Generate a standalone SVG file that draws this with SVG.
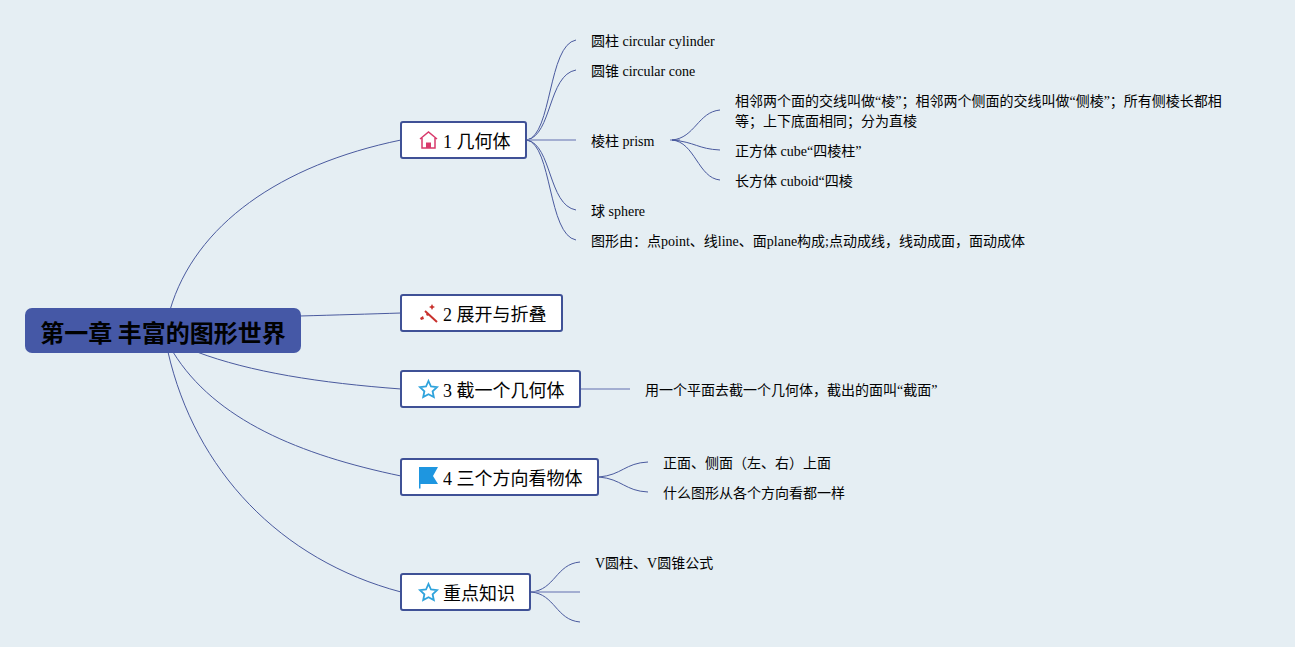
<svg xmlns="http://www.w3.org/2000/svg" width="1295" height="647" viewBox="0 0 1295 647">
<style>
text{font-family:"Liberation Serif","Noto Sans CJK SC",serif;fill:#000;opacity:.99}
.leaf{font-size:14px}
.top{font-size:18px}
.root{font-size:24px;font-weight:700;fill:#000;font-family:"Noto Sans CJK SC","Liberation Sans",sans-serif}
.box{fill:#fff;stroke:#3f5196;stroke-width:2}
.c{fill:none;stroke:#4a5a9e;stroke-width:1}
.s{fill:none;stroke:#8c99c6;stroke-width:1.5}
</style>
<rect width="1295" height="647" fill="#e5eef3"/>
<g id="connectors">
<path class="c" d="M170 310C195 225 280 165 401 140"/>
<path class="c" d="M300 316C335 315 370 314 401 313"/>
<path class="c" d="M197 352C250 372 320 383 401 389"/>
<path class="c" d="M173 352C215 420 300 455 401 476"/>
<path class="c" d="M168 352C195 470 280 560 401 592"/>
<path class="c" d="M527 140C552 135 548 45 576 40"/>
<path class="c" d="M527 140C552 135 548 75 576 70"/>
<path class="s" d="M527 140H576"/>
<path class="c" d="M527 140C552 145 548 205 576 210"/>
<path class="c" d="M527 140C552 145 548 235 576 240"/>
<path class="s" d="M670 140H680"/>
<path class="c" d="M672 140C695 138 698 112 720 110"/>
<path class="c" d="M672 140C695 142 698 149 720 150"/>
<path class="c" d="M672 140C695 142 698 178 720 180"/>
<path class="s" d="M581 389H630"/>
<path class="c" d="M599 477C622 475 625 463 648 462"/>
<path class="c" d="M599 477C622 479 625 491 648 492"/>
<path class="c" d="M531 592C555 590 556 564 580 562"/>
<path class="s" d="M531 592H580"/>
<path class="c" d="M531 592C555 594 556 620 580 622"/>
</g>
<g id="root"><rect x="25" y="308" width="276" height="45" rx="7" fill="#4558a6"/><text class="root" x="163" y="342" text-anchor="middle">第一章 丰富的图形世界</text></g>
<g id="n1"><rect class="box" x="401" y="122" width="125" height="36" rx="2"/>
<path d="M420 139L428.500 132L437 139M422 138V148H435V138" fill="none" stroke="#d83a6c" stroke-width="1.500"/><path d="M426 148V142.500H431V148Z" fill="#d83a6c"/>
<text class="top" x="443" y="148">1 几何体</text></g>
<g id="n2"><rect class="box" x="401" y="295" width="161" height="36" rx="2"/>
<path d="M425 311L437 322" stroke="#c8302c" stroke-width="2" fill="none"/><path d="M420 318l3-2 1 3-3 1zM426 314l2-1 1 2-2 1zM432 304l1 2 2 1-2 1-1 2-1-2-2-1 2-1z" fill="#c8302c"/>
<text class="top" x="443" y="321">2 展开与折叠</text></g>
<g id="n3"><rect class="box" x="401" y="371" width="179" height="36" rx="2"/>
<path id="star3" d="M428.500 381L431 386.500L437 387.200L432.600 391.300L433.800 397L428.500 394.200L423.200 397L424.400 391.300L420 387.200L426 386.500Z" fill="none" stroke="#2fa3dc" stroke-width="1.800"/>
<text class="top" x="443" y="397">3 截一个几何体</text></g>
<g id="n4"><rect class="box" x="401" y="459" width="197" height="36" rx="2"/>
<path d="M419 467H438L433 476L438 484H420.500V488.500H419Z" fill="#1e96e0"/>
<text class="top" x="443" y="485">4 三个方向看物体</text></g>
<g id="n5"><rect class="box" x="401" y="574" width="129" height="36" rx="2"/>
<path d="M428.500 584L431 589.500L437 590.200L432.600 594.300L433.800 600L428.500 597.200L423.200 600L424.400 594.300L420 590.200L426 589.500Z" fill="none" stroke="#2fa3dc" stroke-width="1.800"/>
<text class="top" x="443" y="600">重点知识</text></g>
<g id="a1"><text class="leaf" x="591" y="46">圆柱 circular cylinder</text></g>
<g id="a2"><text class="leaf" x="591" y="76">圆锥 circular cone</text></g>
<g id="a3"><text class="leaf" x="591" y="146">棱柱 prism</text></g>
<g id="a4"><text class="leaf" x="591" y="216">球 sphere</text></g>
<g id="a5"><text class="leaf" x="591" y="246">图形由：点point、线line、面plane构成;点动成线，线动成面，面动成体</text></g>
<g id="b1"><text class="leaf" x="735" y="106">相邻两个面的交线叫做“棱”；相邻两个侧面的交线叫做“侧棱”；所有侧棱长都相</text><text class="leaf" x="735" y="126">等；上下底面相同；分为直棱</text></g>
<g id="b2"><text class="leaf" x="735" y="156">正方体 cube“四棱柱”</text></g>
<g id="b3"><text class="leaf" x="735" y="186">长方体 cuboid“四棱</text></g>
<g id="c1"><text class="leaf" x="645" y="395">用一个平面去截一个几何体，截出的面叫“截面”</text></g>
<g id="d1"><text class="leaf" x="663" y="468">正面、侧面（左、右）上面</text></g>
<g id="d2"><text class="leaf" x="663" y="498">什么图形从各个方向看都一样</text></g>
<g id="e1"><text class="leaf" x="595" y="568">V圆柱、V圆锥公式</text></g>
</svg>
